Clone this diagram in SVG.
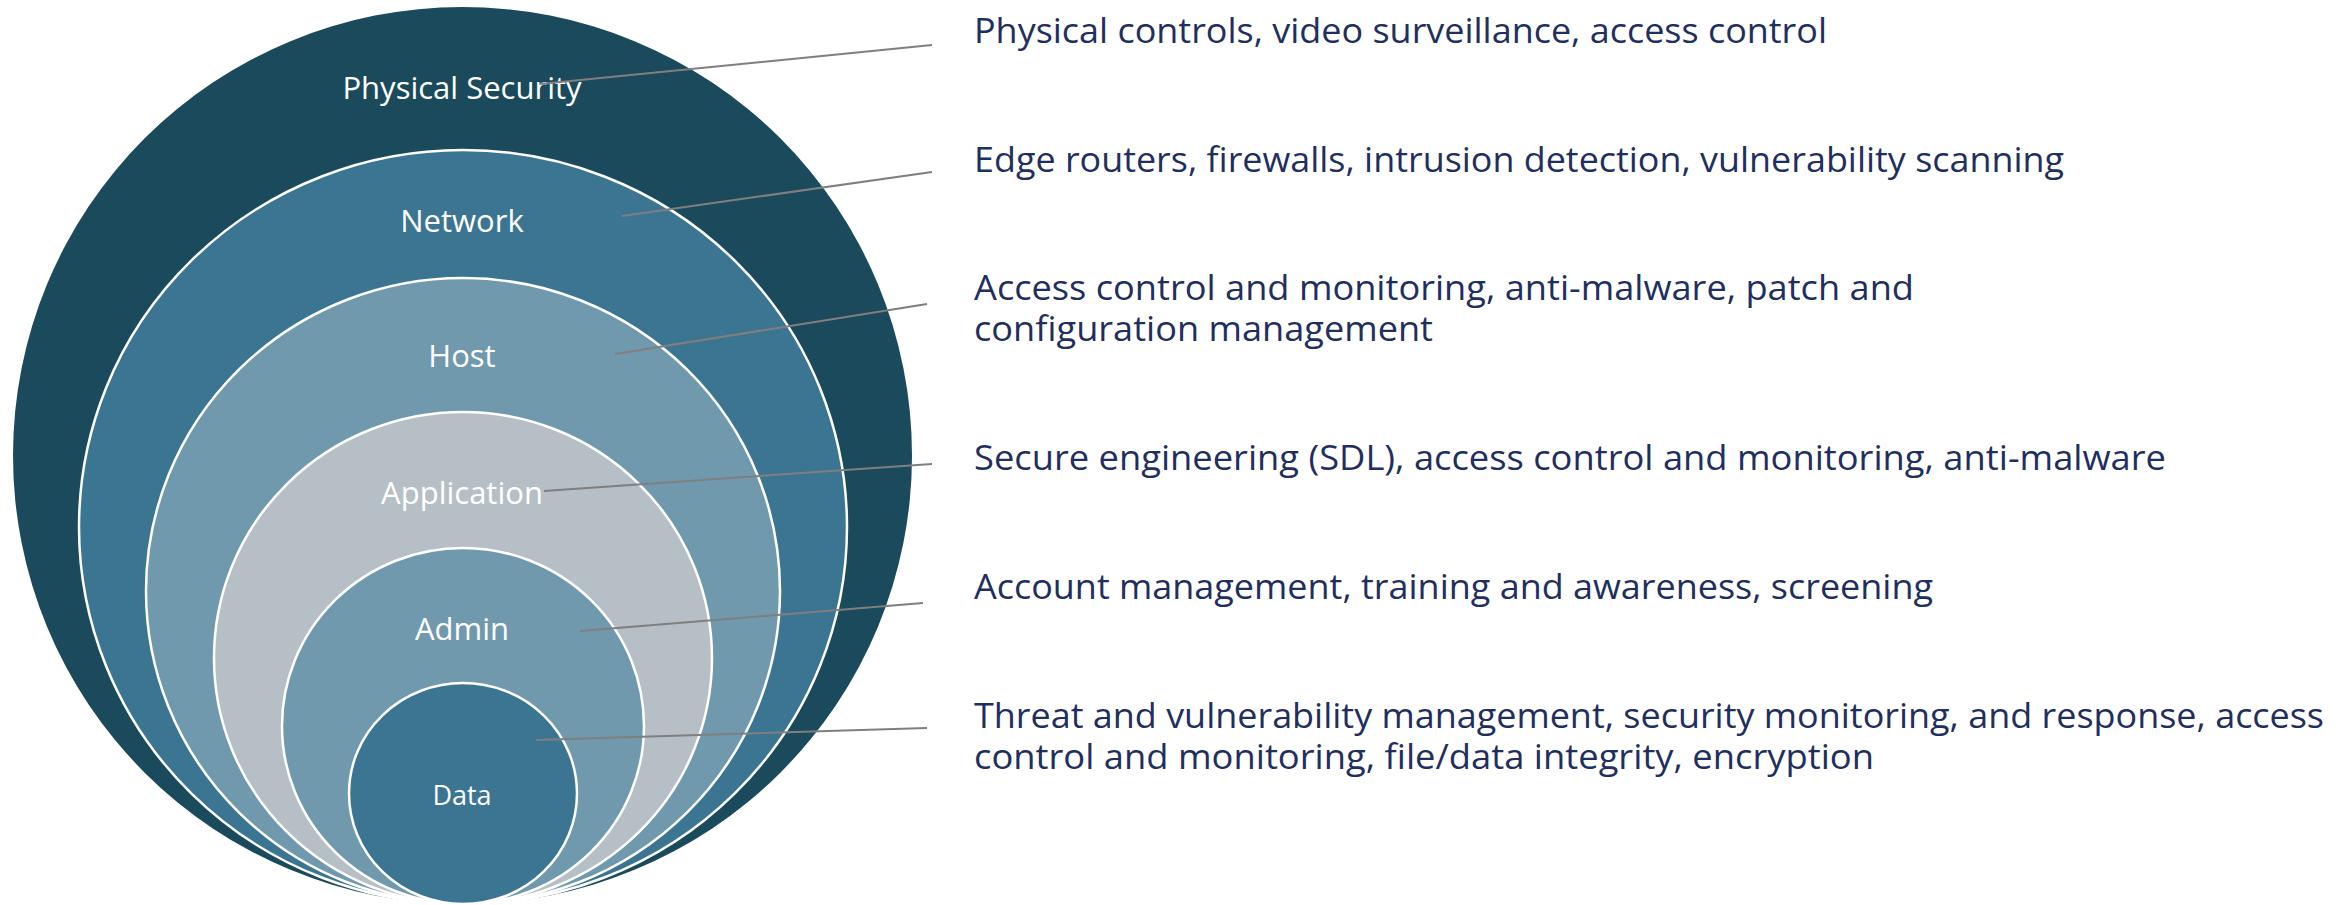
<svg xmlns="http://www.w3.org/2000/svg" width="2344" height="905" viewBox="0 0 2344 905">
  <style>
    .ring { stroke: #ffffff; stroke-width: 2.5; }
    .lbl { font-family: "Segoe UI", "Open Sans", "Noto Sans", sans-serif; font-size: 31px; fill: #ffffff; text-anchor: middle; }
    .desc { font-family: "Segoe UI", "Open Sans", "Noto Sans", sans-serif; font-size: 35px; fill: #1f2f5f; }
    .conn { stroke: #7f7f7f; stroke-width: 2; fill: none; }
  </style>
  <rect width="2344" height="905" fill="#ffffff"/>
  <g id="physical">
    <ellipse cx="462.5" cy="455.5" rx="449.5" ry="448.5" fill="#1a4a5c"/>
    <text class="lbl" x="462" y="99">Physical Security</text>
  </g>
  <g id="network">
    <ellipse class="ring" cx="463" cy="527" rx="384" ry="377" fill="#3c7592"/>
    <text class="lbl" x="462" y="232">Network</text>
  </g>
  <g id="host">
    <ellipse class="ring" cx="463" cy="591" rx="317" ry="313" fill="#7199ae"/>
    <text class="lbl" x="462" y="367">Host</text>
  </g>
  <g id="application">
    <ellipse class="ring" cx="463" cy="658" rx="249" ry="246" fill="#b5bfc5"/>
    <text class="lbl" x="462" y="504">Application</text>
  </g>
  <g id="admin">
    <ellipse class="ring" cx="463" cy="726" rx="181" ry="178" fill="#7199ae"/>
    <text class="lbl" x="462" y="640">Admin</text>
  </g>
  <g id="data">
    <ellipse class="ring" cx="463" cy="793.5" rx="114" ry="110.5" fill="#3c7592"/>
    <text class="lbl" x="462" y="805" style="font-size:27px">Data</text>
  </g>
  <g id="connectors">
    <line class="conn" x1="540" y1="84" x2="932" y2="45"/>
    <line class="conn" x1="622" y1="216" x2="932" y2="172"/>
    <line class="conn" x1="615" y1="354" x2="927" y2="304"/>
    <line class="conn" x1="544" y1="491" x2="932" y2="464"/>
    <line class="conn" x1="580" y1="631" x2="923" y2="603"/>
    <line class="conn" x1="536" y1="740" x2="927" y2="728"/>
  </g>
  <g id="desc-physical">
    <text class="desc" x="974" y="43" textLength="853" lengthAdjust="spacingAndGlyphs">Physical controls, video surveillance, access control</text>
  </g>
  <g id="desc-network">
    <text class="desc" x="974" y="172" textLength="1090" lengthAdjust="spacingAndGlyphs">Edge routers, firewalls, intrusion detection, vulnerability scanning</text>
  </g>
  <g id="desc-host">
    <text class="desc" x="974" y="300" textLength="940" lengthAdjust="spacingAndGlyphs">Access control and monitoring, anti-malware, patch and</text>
    <text class="desc" x="974" y="341" textLength="459" lengthAdjust="spacingAndGlyphs">configuration management</text>
  </g>
  <g id="desc-application">
    <text class="desc" x="974" y="470" textLength="1192" lengthAdjust="spacingAndGlyphs">Secure engineering (SDL), access control and monitoring, anti-malware</text>
  </g>
  <g id="desc-admin">
    <text class="desc" x="974" y="599" textLength="959" lengthAdjust="spacingAndGlyphs">Account management, training and awareness, screening</text>
  </g>
  <g id="desc-data">
    <text class="desc" x="974" y="728" textLength="1350" lengthAdjust="spacingAndGlyphs">Threat and vulnerability management, security monitoring, and response, access</text>
    <text class="desc" x="974" y="769" textLength="900" lengthAdjust="spacingAndGlyphs">control and monitoring, file/data integrity, encryption</text>
  </g>
</svg>
